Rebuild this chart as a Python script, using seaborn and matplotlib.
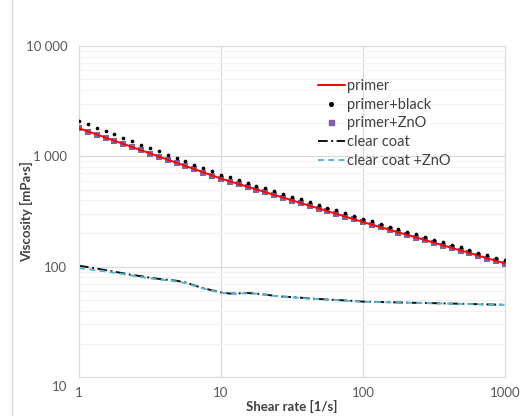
import matplotlib.pyplot as plt
import pandas as pd
import seaborn as sns
from matplotlib.lines import Line2D
from matplotlib.patches import Rectangle
from matplotlib.ticker import LogLocator, NullFormatter, NullLocator
from matplotlib.transforms import ScaledTranslation

# shear rate [1/s], 16 points per decade
shear_rate = [
    1.0, 1.155, 1.334, 1.540, 1.778, 2.054, 2.371, 2.738, 3.162, 3.652, 4.217, 4.870,
    5.623, 6.494, 7.499, 8.660, 10.0, 11.55, 13.34, 15.40, 17.78, 20.54, 23.71, 27.38,
    31.62, 36.52, 42.17, 48.70, 56.23, 64.94, 74.99, 86.60, 100.0, 115.5, 133.4, 154.0,
    177.8, 205.4, 237.1, 273.8, 316.2, 365.2, 421.7, 487.0, 562.3, 649.4, 749.9, 866.0,
    1000.0,
]

# viscosity [mPa·s]
primer = [
    1800, 1680, 1580, 1475, 1385, 1295, 1213, 1135, 1064, 995, 933, 873,
    817, 766, 716, 671, 628, 593, 561, 530, 501, 473, 447, 423,
    399, 377, 356, 337, 318, 301, 284, 269, 254, 240, 228, 216,
    204, 194, 184, 174, 165, 156, 148, 140, 133, 126, 119, 113,
    107,
]
primer_black = [
    2090, 1950, 1816, 1694, 1578, 1472, 1374, 1279, 1194, 1112, 1038, 968,
    902, 841, 785, 731, 682, 644, 608, 574, 542, 512, 483, 456,
    431, 407, 385, 363, 343, 324, 305, 288, 272, 258, 244, 231,
    219, 207, 196, 186, 176, 167, 158, 150, 142, 134, 127, 121,
    114,
]
primer_zno = [
    1790, 1670, 1570, 1468, 1378, 1290, 1208, 1130, 1058, 990, 928, 868,
    813, 762, 713, 668, 625, 590, 558, 527, 498, 471, 445, 421,
    397, 375, 354, 335, 317, 300, 283, 268, 253, 239, 227, 215,
    203, 193, 183, 173, 164, 155, 147, 139, 132, 125, 118, 112,
    106,
]
clear_coat = [
    102, 99, 96, 93, 90, 87, 84, 82, 79.5, 77.5, 76, 74.5,
    72, 67.5, 64, 61, 58.5, 57, 57.3, 57.7, 57, 55.8, 54.5, 53.5,
    53, 52.3, 51.5, 51, 50.4, 49.9, 49.4, 48.9, 48.2, 48.0, 47.8, 47.6,
    47.4, 47.2, 47.0, 46.9, 46.7, 46.5, 46.3, 46.1, 45.9, 45.7, 45.5, 45.3,
    45.2,
]
clear_coat_zno = [
    97, 95, 92.5, 90.5, 88, 85.5, 83, 80.5, 78.5, 76.5, 75, 73.5,
    71, 67, 63.5, 60.5, 58, 56.8, 57, 57.4, 56.8, 55.5, 54.3, 53.3,
    52.7, 52, 51.3, 50.8, 50.2, 49.7, 49.2, 48.7, 48.1, 47.9, 47.7, 47.5,
    47.3, 47.1, 46.9, 46.8, 46.6, 46.4, 46.2, 46.0, 45.8, 45.6, 45.4, 45.2,
    45.1,
]

series_labels = ["primer", "primer+black", "primer+ZnO", "clear coat", "clear coat +ZnO"]
y_ticks = [10, 100, 1000, 10000]
y_tick_labels = ["10", "100", "1 000", "10 000"]
x_ticks = [1, 10, 100, 1000]
x_tick_labels = ["1", "10", "100", "1000"]

df = pd.DataFrame({
    "shear": shear_rate,
    "primer": primer,
    "primer_black": primer_black,
    "primer_zno": primer_zno,
    "clear_coat": clear_coat,
    "clear_coat_zno": clear_coat_zno,
})

sns.set_theme(style="white")
plt.rcParams["font.family"] = ["Lato", "DejaVu Sans"]

RED = "#ff0000"
PURPLE = "#8064a2"
BLACK = "#111111"
CYAN = "#5ab4cf"
GRID = "#d9d9d9"
TEXT = "#595959"

fig = plt.figure(figsize=(5.23, 4.16), dpi=100)
ax = fig.add_axes([79 / 523, 1 - 377 / 416, 426 / 523, 331 / 416])

# outer chart frame (only top/left edges visible)
fig.patches.append(Rectangle((12 / 523, -0.2), 1.5, 1.2 + (1 - 12 / 416), transform=fig.transFigure,
                             fill=False, edgecolor=GRID, linewidth=1.0))

cc_dash = (5.0, 1.8, 1.0, 1.8)
zno_dash = (3.0, 2.3)

sns.lineplot(data=df, x="shear", y="clear_coat", color=BLACK, linewidth=1.4, ax=ax,
             linestyle=(0, cc_dash))
sns.lineplot(data=df, x="shear", y="clear_coat_zno", color=CYAN, linewidth=1.4, ax=ax,
             linestyle=(0, zno_dash))
sns.scatterplot(data=df, x="shear", y="primer_zno", color=PURPLE, marker="s", s=14, linewidth=0, ax=ax, zorder=3)
sns.lineplot(data=df, x="shear", y="primer", color=RED, linewidth=1.4, ax=ax, zorder=4)
sns.scatterplot(data=df, x="shear", y="primer_black", color="black", marker="o", s=7, linewidth=0, ax=ax, zorder=5)

ax.set_xscale("log")
ax.set_yscale("log")
ax.set_xlim(1, 1000)
ax.set_ylim(10, 10000)

ax.set_xticks(x_ticks)
ax.set_xticklabels(x_tick_labels)
ax.xaxis.set_minor_locator(NullLocator())
ax.set_yticks(y_ticks)
ax.set_yticklabels(y_tick_labels)
ax.yaxis.set_minor_locator(LogLocator(base=10, subs=range(2, 10)))
ax.yaxis.set_minor_formatter(NullFormatter())

ax.grid(which="major", color=GRID, linewidth=0.8)
ax.grid(which="minor", axis="y", color="#f3f3f3", linewidth=0.8)
ax.set_axisbelow(True)
ax.tick_params(which="both", length=0, labelsize=9.5, labelcolor=TEXT)
ax.tick_params(axis="y", pad=8.5)
ax.tick_params(axis="x", pad=7.5)
for spine in ax.spines.values():
    spine.set_color(GRID)
    spine.set_linewidth(0.8)

# bottom y label sits a bit below the axis line
lbl = ax.yaxis.get_major_ticks()[0].label1
lbl.set_transform(lbl.get_transform() + ScaledTranslation(0, -0.09, fig.dpi_scale_trans))

ax.set_xlabel("Shear rate [1/s]", fontsize=9.5, fontweight="bold", color="#404040")
ax.set_ylabel("Viscosity [mPa·s]", fontsize=9.5, fontweight="bold", color="#404040")
ax.xaxis.label.set_va("center")
ax.yaxis.label.set_va("center")
ax.xaxis.set_label_coords(0.5, (377 - 406) / 331)
ax.yaxis.set_label_coords((27 - 79) / 426, 0.5)

handles = [
    Line2D([], [], color=RED, linewidth=1.4),
    Line2D([], [], color="black", marker="o", linestyle="none", markersize=2.6),
    Line2D([], [], color=PURPLE, marker="s", linestyle="none", markersize=3.6),
    Line2D([], [], color=BLACK, linewidth=1.4, linestyle=(0, cc_dash)),
    Line2D([], [], color=CYAN, linewidth=1.4, linestyle=(0, zno_dash)),
]
ax.legend(handles, series_labels, loc="upper left", bbox_to_anchor=(318 / 523, 1 - 79 / 416),
          bbox_transform=fig.transFigure, frameon=False, borderpad=0, borderaxespad=0,
          handlelength=1.85, handletextpad=0.15, labelspacing=0.32, fontsize=10.5, labelcolor="#404040")

fig.savefig("out.png", dpi=100)
